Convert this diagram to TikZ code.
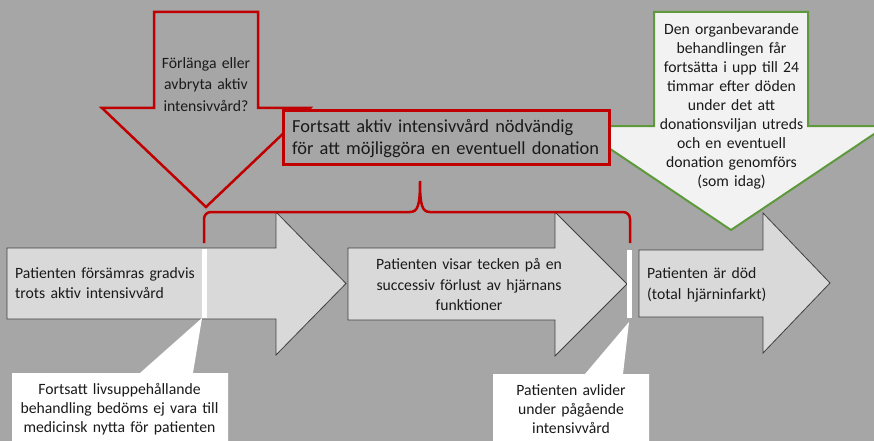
\documentclass[tikz,border=0pt]{standalone}
\usepackage{fontspec}
\setmainfont{Carlito}
\usetikzlibrary{positioning}
\definecolor{bakgrund}{HTML}{A6A6A6}
\definecolor{fasfarg}{HTML}{D9D9D9}
\definecolor{kant}{HTML}{404040}
\definecolor{rod}{HTML}{C00000}
\definecolor{gron}{HTML}{5E9A3C}
\definecolor{ljus}{HTML}{F2F2F2}
\definecolor{textfarg}{HTML}{1A1A1A}
\begin{document}
\begin{tikzpicture}[x=1pt,y=-1pt,
  fas/.style={fill=fasfarg,draw=kant,line width=0.8pt},
  rodram/.style={draw=rod,line width=2.5pt},
  gronram/.style={draw=gron,fill=ljus,line width=2pt},
  bubbla/.style={fill=white},
  txt/.style={inner sep=0pt,text=textfarg,font=\fontsize{15.7}{#1}\selectfont}]

  \clip (0,0) rectangle (874,441);
  \fill[bakgrund] (0,0) rectangle (874,441);

  % tidslinjen
  \draw[fas] (7,248) -- (276,248) -- (276,212) -- (346,283.5) -- (276,355) -- (276,319) -- (7,319) -- cycle;
  \draw[fas] (348,248) -- (555,248) -- (555,212) -- (627,284) -- (555,356) -- (555,320) -- (348,320) -- cycle;
  \draw[fas] (639,250) -- (763,250) -- (763,213) -- (830,283) -- (763,353) -- (763,317) -- (639,317) -- cycle;

  \fill[white] (202,249) rectangle (207,318);
  \fill[white] (627,250) rectangle (632,318);
  \coordinate (grans1) at (202,318);
  \coordinate (grans2) at (629,322);

  % pratbubblor
  \fill[bubbla] (12,373) -- (140,373) -- (grans1) -- (193,373) -- (228,373) -- (228,445) -- (12,445) -- cycle;
  \fill[bubbla] (493,374) -- (585,374) -- (grans2) -- (623,374) -- (649,374) -- (649,445) -- (493,445) -- cycle;

  \node[txt=20, anchor=base west, text width=250pt, align=left] (forsamras) at (15,278.3)
    {Patienten försämras gradvis\\trots aktiv intensivvård};
  \node[txt=20.7, anchor=base, text width=210pt, align=center] (tecken) at (469,269.3)
    {Patienten visar tecken på en\\successiv förlust av hjärnans\\funktioner};
  \node[txt=21, anchor=base west, text width=180pt, align=left] (dod) at (647,278)
    {Patienten är död\\(total hjärninfarkt)};

  \node[txt=19.2, anchor=base, text width=214pt, align=center] (nytta) at (119.5,394)
    {Fortsatt livsuppehållande\\behandling bedöms ej vara till\\medicinsk nytta för patienten};
  \node[txt=19, anchor=base, text width=150pt, align=center] (avlider) at (571,395.7)
    {Patienten avlider\\under pågående\\intensivvård};

  % beslutspilen
  \draw[rodram] (154,12) -- (258,12) -- (258,108) -- (310,108) -- (206,207) -- (102,108) -- (154,108) -- cycle;
  \node[txt=21.5, anchor=base, text width=130pt, align=center] (beslut) at (206,68.3)
    {Förlänga eller\\avbryta aktiv\\intensivvård?};

  % organbevarande behandling
  \draw[gronram] (654,12) -- (808,12) -- (808,126) -- (886,126) -- (731,230) -- (576,126) -- (654,126) -- cycle;
  \node[txt=19, anchor=base, text width=170pt, align=center] (organ) at (731.5,34.3)
    {Den organbevarande\\behandlingen får\\fortsätta i upp till 24\\timmar efter döden\\under det att\\donationsviljan utreds\\och en eventuell\\donation genomförs\\(som idag)};

  % rutan och klammern
  \node[rodram, fill=bakgrund, anchor=north west, minimum width=326pt, minimum height=54pt, inner sep=0pt] (villkor) at (282,109) {};
  \node[txt=21.5, font=\fontsize{18.4}{21.5}\selectfont, anchor=base west, text width=316pt, align=left] (villkortext) at (292,132.5)
    {Fortsatt aktiv intensivvård nödvändig\\för att möjliggöra en eventuell donation};

  \coordinate (klamv) at (204,243);
  \coordinate (klamh) at (630,243);
  \draw[rod, line width=2.5pt] (klamv) -- (204,219) to[out=90,in=180] (211,212) -- (410,212)
    .. controls (418,212) and (420,205) .. (420,181)
    .. controls (420,205) and (422,212) .. (430,212) -- (623,212) to[out=0,in=90] (630,219) -- (klamh);
\end{tikzpicture}
\end{document}
